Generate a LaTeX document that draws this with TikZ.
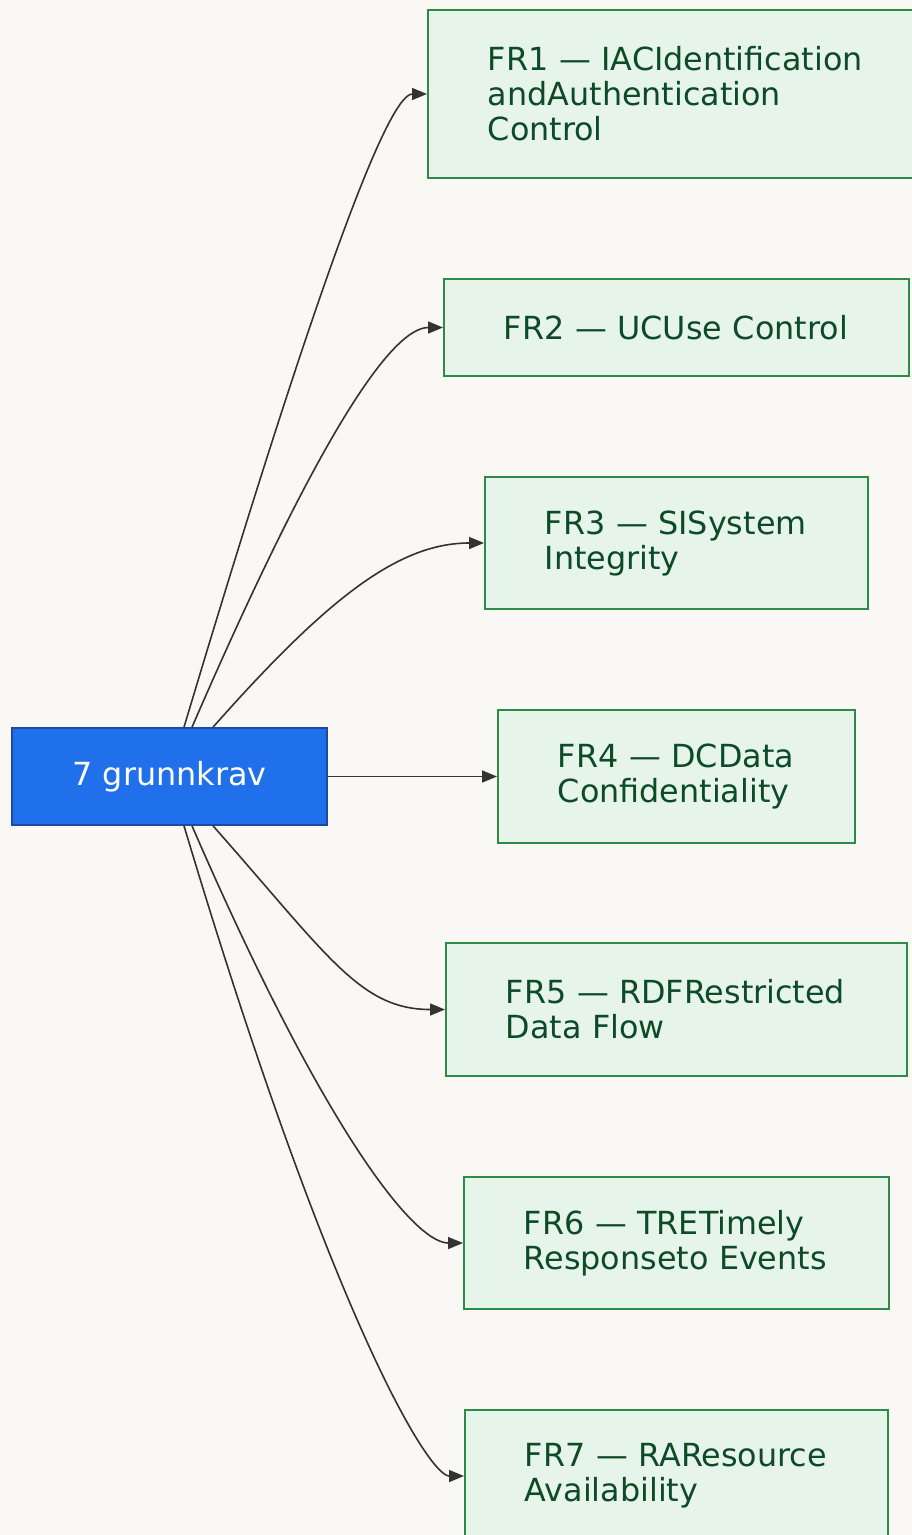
\documentclass[tikz,border=0pt]{standalone}
\usepackage{fontspec}
\setmainfont{DejaVu Sans}
\usetikzlibrary{arrows.meta,positioning}
\definecolor{paper}{HTML}{F9F8F4}
\definecolor{hubblue}{HTML}{2070EB}
\definecolor{hubedge}{HTML}{1A4B9C}
\definecolor{frfill}{HTML}{E6F4EA}
\definecolor{fredge}{HTML}{2E8B47}
\definecolor{frtext}{HTML}{0D4A26}
\definecolor{linkgray}{HTML}{333333}
\newcommand{\frline}[1]{\mbox{#1}}
\tikzset{
  hub/.style={draw=hubedge, fill=hubblue, text=white, line width=1.6pt, minimum width=315pt, minimum height=97pt, font=\fontsize{31.8pt}{35pt}\selectfont},
  frbox/.style={draw=fredge, fill=frfill, text=frtext, line width=1.6pt, anchor=west, inner xsep=60pt, align=left, font=\fontsize{31.8pt}{35pt}\selectfont},
  link/.style={-{Triangle[length=15pt,width=12pt]}, line width=1.6pt, draw=linkgray}
}

\begin{document}
\begin{tikzpicture}[x=1pt, y=-1pt]
  \clip (0,0) rectangle (912,1535);
  \fill[paper] (0,0) rectangle (912,1535);

  \node[hub] (core) at (169.5,776.5) {7 grunnkrav};

  \node[frbox, text width=380pt, minimum height=168pt] (fr1) at (427,94) {\frline{FR1 — IACIdentification}\\\frline{andAuthentication}\\Control};
  \node[frbox, text width=345pt, minimum height=97pt] (fr2) at (443,327.5) {\frline{FR2 — UCUse Control}};
  \node[frbox, text width=263pt, minimum height=132pt] (fr3) at (484,543) {\frline{FR3 — SISystem}\\Integrity};
  \node[frbox, text width=237pt, minimum height=133pt] (fr4) at (497,776.5) {\frline{FR4 — DCData}\\\frline{Confidentiality}};
  \node[frbox, text width=341pt, minimum height=133pt] (fr5) at (445,1009.5) {\frline{FR5 — RDFRestricted}\\\frline{Data Flow}};
  \node[frbox, text width=305pt, minimum height=132pt] (fr6) at (463,1243) {\frline{FR6 — TRETimely}\\\frline{Responseto Events}};
  \node[frbox, text width=303pt, minimum height=132pt] (fr7) at (464,1476) {\frline{FR7 — RAResource}\\\frline{Availability}};

  % links from the hub
  \draw[link] ([xshift=14.5pt]core.north) .. controls +(146,-488) and +(-36,0) .. (fr1.west);
  \draw[link] ([xshift=22.5pt]core.north) .. controls +(130,-300) and +(-50,0) .. (fr2.west);
  \draw[link] ([xshift=43.5pt]core.north) .. controls +(115,-130) and +(-85,0) .. (fr3.west);
  \draw[link] (core.east) -- (fr4.west);
  \draw[link] ([xshift=43.5pt]core.south) .. controls +(115,130) and +(-85,0) .. (fr5.west);
  \draw[link] ([xshift=22.5pt]core.south) .. controls +(130,300) and +(-50,0) .. (fr6.west);
  \draw[link] ([xshift=14.5pt]core.south) .. controls +(146,488) and +(-36,0) .. (fr7.west);
\end{tikzpicture}
\end{document}
